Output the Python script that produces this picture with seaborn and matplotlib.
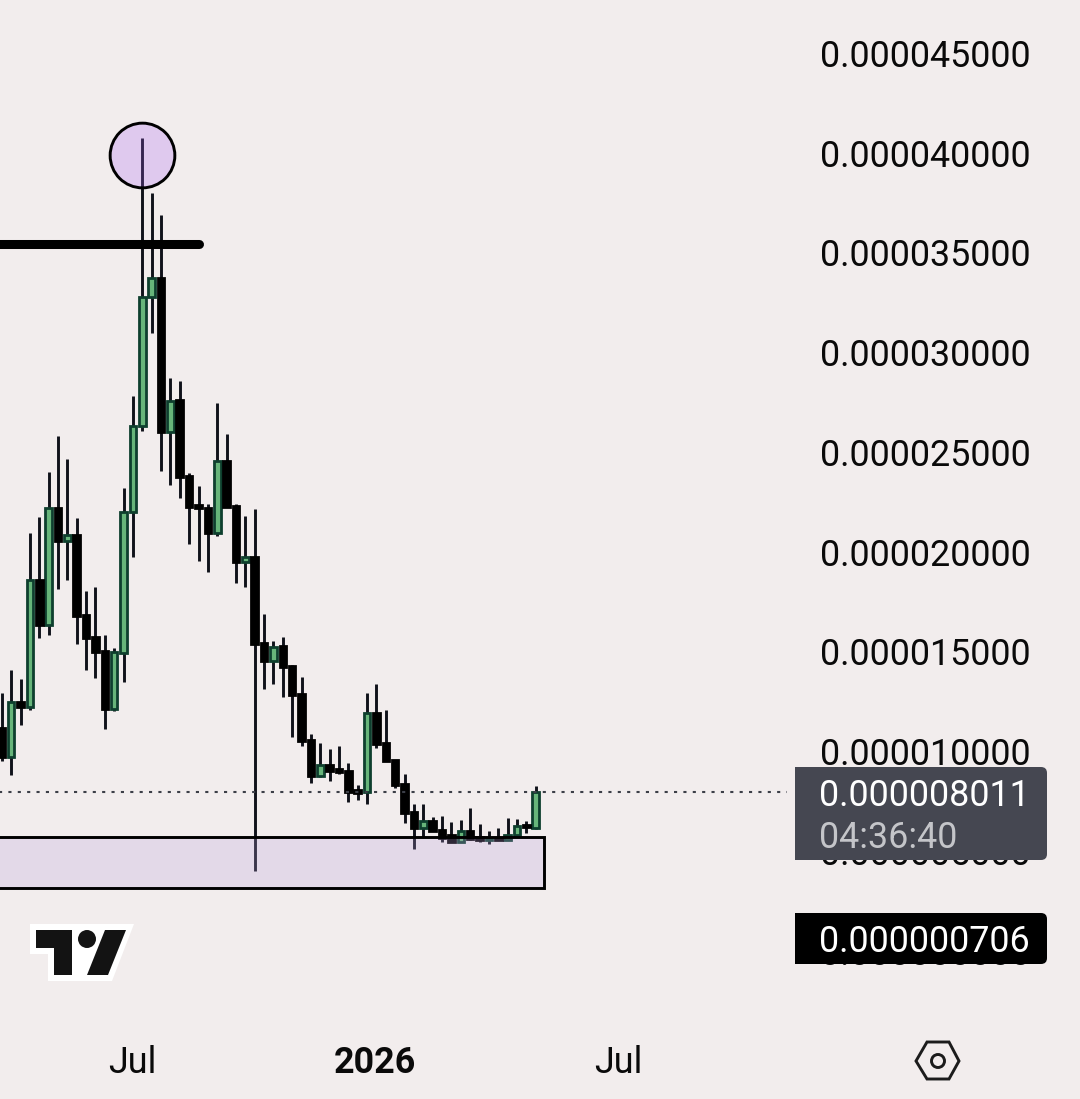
import numpy as np
import pandas as pd
import matplotlib
matplotlib.use("Agg")
import matplotlib.pyplot as plt
import seaborn as sns
from matplotlib.patches import FancyBboxPatch, Rectangle, Polygon, Circle
from matplotlib.transforms import IdentityTransform, ScaledTranslation

# prices in millionths (1e-6), weekly candles
opens = [11.20, 9.75, 12.50, 12.25, 18.62, 16.36, 22.22, 20.57, 20.87, 16.86,
         15.76, 15.06, 12.15, 14.96, 22.02, 26.33, 32.79, 33.75, 26.03, 27.64,
         23.83, 22.37, 22.22, 20.97, 24.58, 22.32, 19.52, 19.77, 15.46, 14.56,
         15.31, 14.31, 12.91, 10.60, 8.80, 9.35, 9.15, 9.05, 8.10, 8.00,
         11.95, 10.45, 9.60, 8.40, 6.99, 6.19, 6.54, 6.09, 5.84, 5.49,
         6.04, 5.74, 5.59, 5.69, 5.59, 5.84, 6.34, 6.19]
closes = [9.75, 12.50, 12.25, 18.62, 16.36, 22.22, 20.57, 20.87, 16.81, 15.71,
          15.01, 12.15, 15.01, 22.02, 26.33, 32.79, 33.75, 26.03, 27.59, 23.78,
          22.27, 22.22, 20.97, 24.58, 22.27, 19.52, 19.77, 15.41, 14.56, 15.26,
          14.26, 12.86, 10.55, 8.80, 9.35, 9.05, 9.00, 8.00, 7.95, 11.95,
          10.40, 9.55, 8.35, 6.94, 6.19, 6.54, 6.04, 5.69, 5.49, 6.04,
          5.64, 5.59, 5.69, 5.59, 5.84, 6.29, 6.24, 8.011]
highs = [12.96, 14.11, 13.66, 20.97, 21.77, 24.03, 25.83, 24.68, 21.72, 18.07,
         18.27, 15.86, 15.21, 23.22, 27.84, 40.76, 38.01, 36.91, 28.74, 28.59,
         23.98, 23.33, 22.43, 27.48, 25.93, 22.43, 21.82, 22.18, 16.91, 15.56,
         15.76, 14.36, 13.76, 10.90, 10.45, 10.15, 10.30, 9.45, 8.35, 12.96,
         13.41, 12.10, 9.60, 8.90, 7.39, 7.39, 6.74, 6.79, 6.49, 6.59,
         7.19, 6.39, 6.04, 6.19, 6.69, 6.64, 6.54, 8.29]
lows = [9.55, 8.85, 11.35, 12.10, 15.71, 15.86, 18.17, 18.62, 15.41, 14.11,
        13.71, 11.15, 12.05, 13.51, 19.77, 26.08, 31.00, 24.08, 23.38, 22.73,
        20.42, 19.57, 19.02, 20.82, 22.27, 18.47, 18.27, 4.04, 13.16, 13.41,
        12.76, 10.75, 10.30, 8.45, 8.75, 8.55, 8.90, 7.50, 7.60, 7.39,
        10.20, 9.55, 8.20, 6.44, 5.14, 5.74, 6.04, 5.49, 5.49, 5.49,
        5.59, 5.49, 5.39, 5.59, 5.59, 5.84, 5.94, 6.14]

price_ticks = [0, 5, 10, 15, 20, 25, 30, 35, 40, 45]
price_labels = ["0.000000000", "0.000005000", "0.000010000", "0.000015000", "0.000020000",
                "0.000025000", "0.000030000", "0.000035000", "0.000040000", "0.000045000"]
time_ticks = [13.9, 39.84, 65.8]
time_labels = ["Jul", "2026", "Jul"]
last_price = 8.011
last_label = "0.000008011"
countdown = "04:36:40"
low_label = "0.000000706"
resistance = 35.43
zone_low, zone_high = 3.19, 5.75
peak_price = 39.91

BG = "#f2eded"
GREEN = "#67b57a"
GREEN_EDGE = "#0e3f2e"
BLACK = "#000000"
WICK = "#10121a"
FW, FH = 1080, 1099
FS = 25.85

sns.set_theme(style="white", rc={"figure.facecolor": BG, "axes.facecolor": BG})
plt.rcParams["font.family"] = ["Roboto", "DejaVu Sans"]

df = pd.DataFrame({"open": opens, "high": highs, "low": lows, "close": closes})
df["idx"] = np.arange(len(df))
df["bottom"] = df[["open", "close"]].min(axis=1)
df["body"] = (df["close"] - df["open"]).abs()
df["up"] = df["close"] > df["open"]

fig = plt.figure(figsize=(FW / 100, FH / 100), dpi=100)
ax = fig.add_axes([0, (FH - 1020) / FH, 795 / FW, 1020 / FH])

ax.vlines(df["idx"], df["low"], df["high"], color=WICK, lw=2.1, zorder=2)

for is_up, fill, edge in [(True, GREEN, GREEN_EDGE), (False, BLACK, BLACK)]:
    sub = df[df["up"] == is_up]
    sns.barplot(data=sub, x="idx", y="body", bottom=sub["bottom"].to_numpy(),
                native_scale=True, width=0.7, color=fill, saturation=1,
                edgecolor=edge, linewidth=2.0, errorbar=None, ax=ax, zorder=3)
for p in ax.patches:
    p.set_clip_path(ax.patch)
    p.set_linewidth(2.0)

ax.hlines(last_price, -1, 83.8, color="#3c3f48", lw=1.5, linestyles=(0, (1.5, 3.0)), zorder=4)

# horizontal resistance, demand zone, peak marker
ax.plot([-1, 21], [resistance, resistance], color="black", lw=6.5,
        solid_capstyle="round", zorder=5)
ax.add_patch(Rectangle((-1, zone_low), 58.9, zone_high - zone_low,
                       facecolor=(185 / 255, 160 / 255, 220 / 255, 0.25),
                       edgecolor="black", lw=2.1, zorder=5))
sns.scatterplot(x=[15], y=[peak_price], s=2170, ax=ax, zorder=6,
                color=(169 / 255, 96 / 255, 244 / 255, 0.25),
                edgecolor="black", linewidth=2.1, legend=False)

ax.set_xlim(-0.192, 84.68)
ax.set_ylim(-3.43, 47.68)
ax.set_xlabel("")
ax.set_ylabel("")
ax.yaxis.tick_right()
ax.set_yticks(price_ticks)
ax.set_yticklabels(price_labels, fontsize=FS, color="#0a0a0a")
for lab in ax.get_yticklabels():
    lab.set_ha("right")
ax.tick_params(axis="y", length=0, pad=169.8, labelright=True)
nudge = ScaledTranslation(0, 0.7 / 100, fig.dpi_scale_trans)
for t in ax.yaxis.get_major_ticks():
    t.label2.set_transform(t.label2.get_transform() + nudge)
ax.set_xticks(time_ticks)
ax.set_xticklabels(time_labels, fontsize=FS, color="#0a0a0a")
ax.get_xticklabels()[1].set_fontweight("bold")
ax.tick_params(axis="x", length=0, pad=18)
sns.despine(ax=ax, left=True, bottom=True, right=True, top=True)

# ---- overlays in figure pixels
ident = IdentityTransform()
def Y(y):
    return FH - y

def tag(y0, y1, color):
    fig.add_artist(FancyBboxPatch((795, Y(y1)), 252, y1 - y0, boxstyle="round,pad=0,rounding_size=6",
                                  fc=color, ec="none", transform=ident, zorder=5))
    fig.add_artist(Rectangle((795, Y(y1)), 12, y1 - y0, fc=color, ec="none", transform=ident, zorder=5))

def tag_text(y, s, color):
    fig.text(818.7 / FW, Y(y) / FH, s, color=color, fontsize=FS, ha="left", va="center_baseline", zorder=6)

tag(767, 860, "#454751")
tag(913, 964, "#000000")
tag_text(792, last_label, "#ffffff")
tag_text(834, countdown, "#c4c5c9")
tag_text(938.5, low_label, "#ffffff")

# TradingView mark
def poly(points, fc, ec="none", lw=0, closed=True):
    pts = [(x, Y(y)) for x, y in points]
    fig.add_artist(Polygon(pts, closed=closed, fc=fc, ec=ec, lw=lw, transform=ident, zorder=5, joinstyle="miter"))

poly([(30, 924), (134, 924), (112, 981), (48, 981), (48, 954), (30, 954)], "#ffffff")
poly([(36, 930), (72, 930), (72, 975), (54, 975), (54, 948), (36, 948)], "#131313")
poly([(87, 975), (108, 975), (126, 930), (105, 930)], "#131313")
fig.add_artist(Circle((87, Y(939)), 9, fc="#131313", ec="none", transform=ident, zorder=6))

# settings icon
poly([(916, 1061), (927, 1042), (949, 1042), (959, 1061), (949, 1079), (927, 1079)],
     "none", ec="#1c1c1c", lw=2.1)
fig.add_artist(Circle((938, Y(1061)), 6.5, fc="none", ec="#1c1c1c", lw=2.1, transform=ident, zorder=6))

fig.savefig("out.png", dpi=100, facecolor=BG)
